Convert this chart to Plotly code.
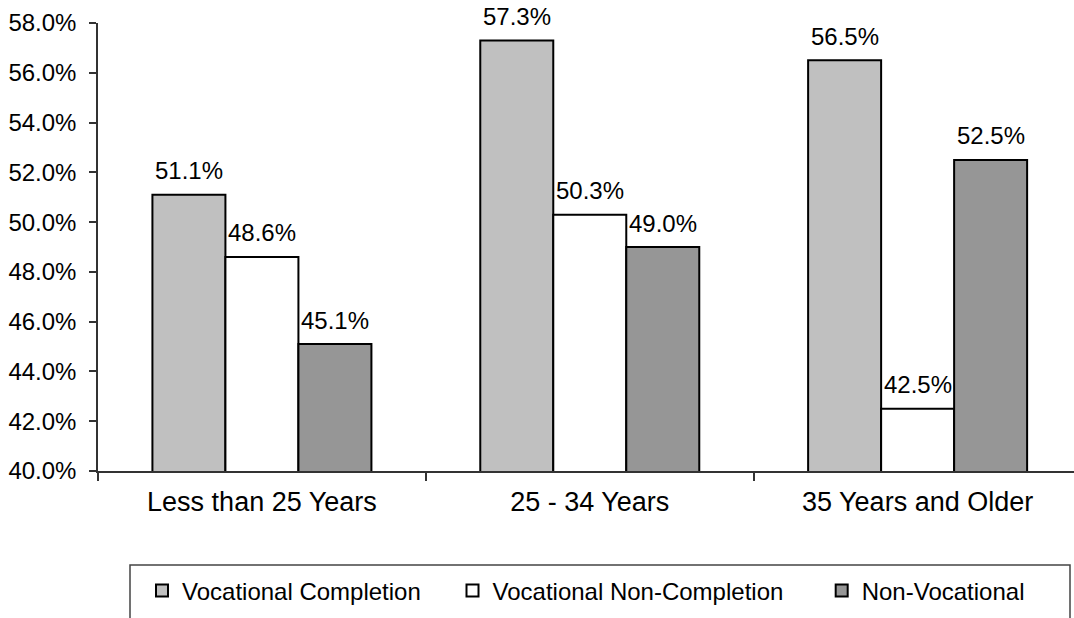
import plotly.graph_objects as go

categories = ['Less than 25 Years', '25 - 34 Years', '35 Years and Older']
series_names = ['Vocational Completion', 'Vocational Non-Completion', 'Non-Vocational']
vocational_completion = [51.1, 57.3, 56.5]
vocational_non_completion = [48.6, 50.3, 42.5]
non_vocational = [45.1, 49.0, 52.5]
y_ticks = [40, 42, 44, 46, 48, 50, 52, 54, 56, 58]

series_values = [vocational_completion, vocational_non_completion, non_vocational]
colors = ['#C0C0C0', '#FFFFFF', '#969696']
legend_pad = [4, 5, 0]  # extra spacing after each legend entry

FONT = 'Liberation Sans, Arial, sans-serif'
W, H = 1074, 618
# plot area in page pixels: x 98..1074, y 23..471
ML, MT, MR, MB = 98, 23, 0, H - 471
BARGAP = 0.332

fig = go.Figure()
for name, vals, col, pad in zip(series_names, series_values, colors, legend_pad):
    fig.add_trace(go.Bar(
        x=categories, y=vals, name=name + '\u00a0' * pad,
        marker=dict(color=col, line=dict(color='black', width=2)),
        hoverinfo='skip',
    ))

plot_w = W - ML - MR
plot_h = H - MT - MB

# data labels above each bar
x_range = [-0.5, 2.477]
cat_px = plot_w / (x_range[1] - x_range[0])
bar_px = cat_px * (1 - BARGAP) / len(series_values)
annotations = []
for i, vals in enumerate(series_values):
    for cat, v in zip(categories, vals):
        annotations.append(dict(
            x=cat, y=v, xref='x', yref='y', text=f'{v:.1f}%',
            showarrow=False, xshift=(i - 1) * bar_px, yshift=24,
            yanchor='middle', font=dict(size=24, color='black', family=FONT),
        ))


def px_x(wx):
    return (wx - ML) / plot_w


def px_y(wy):
    return (H - MB - wy) / plot_h


fig.update_layout(
    width=W, height=H,
    margin=dict(l=ML, r=MR, t=MT, b=MB, autoexpand=False),
    paper_bgcolor='white', plot_bgcolor='white',
    font=dict(family=FONT, size=24, color='black'),
    barmode='group', bargap=BARGAP, bargroupgap=0,
    xaxis=dict(
        type='category', range=x_range, showline=True, linecolor='#333',
        linewidth=1.5, ticks='outside', tickson='boundaries', ticklen=8,
        tickcolor='#333', tickwidth=1.5, showgrid=False, ticklabelstandoff=6,
        tickfont=dict(size=27), automargin=False,
    ),
    yaxis=dict(
        range=[40, 58], tickvals=y_ticks, ticktext=[f'{t:.1f}%' for t in y_ticks],
        showline=True, linecolor='#333', linewidth=1.5, ticks='outside',
        ticklen=7, tickcolor='#333', tickwidth=1.5, showgrid=False,
        zeroline=False, ticklabelstandoff=8, automargin=False,
    ),
    showlegend=True,
    legend=dict(
        orientation='h', xref='container', x=142 / W, xanchor='left',
        yref='container', y=1 - 591 / H, yanchor='middle',
        font=dict(size=24, family=FONT),
        bgcolor='rgba(0,0,0,0)', traceorder='normal',
    ),
    shapes=[dict(
        type='rect', xref='paper', yref='paper',
        x0=px_x(130), x1=px_x(1070), y0=px_y(565), y1=px_y(640),
        line=dict(color='#444', width=1.5), fillcolor='rgba(0,0,0,0)',
    )],
    annotations=annotations,
)

# drop the default page margin so the figure sits at the window corner
fig.write_html('out.html', config={'displayModeBar': False},
               post_script="document.body.style.margin='0px';")
